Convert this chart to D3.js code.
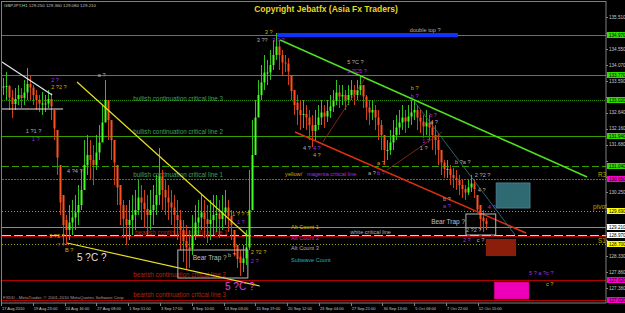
<!DOCTYPE html>
<meta charset="utf-8">
<script src="https://d3js.org/d3.v7.min.js"></script>
<style>
  body { margin: 0; background: #000; }
  svg { display: block; }
  text { font-family: "Liberation Sans", Arial, sans-serif; }
</style>
<div id="chart"></div>
<script>
// candle columns (6 hourly bars each): high / low prices
var colHigh = [133.68,133.86,133.47,133.32,133.38,133.47,133.38,133.62,133.98,133.77,133.47,133.32,133.17,133.26,133.17,133.32,
  133.23,132.72,132.12,131.07,130.17,129.57,129.87,130.02,130.17,130.47,130.92,131.82,131.97,131.82,131.67,131.97,
  132.27,132.87,133.62,133.02,132.42,131.82,131.07,130.47,130.02,129.87,130.02,130.17,130.32,130.62,130.47,130.32,
  130.17,130.32,130.47,130.77,131.58,130.92,130.62,130.47,130.32,130.17,130.02,129.72,129.42,129.27,129.12,129.57,
  129.87,130.02,130.17,130.02,129.87,130.02,130.17,130.17,130.02,130.17,130.32,130.02,129.72,129.12,128.67,128.52,
  128.67,129.12,130.92,132.42,133.02,133.62,134.07,134.37,134.22,134.52,134.82,135.03,134.82,134.52,134.37,134.28,
  133.77,133.32,133.17,133.02,133.02,132.87,132.72,132.57,132.72,132.87,133.02,132.87,133.02,133.17,133.32,133.62,
  133.47,133.47,133.32,133.47,133.62,133.47,133.62,133.77,133.47,133.17,133.02,133.02,132.87,132.72,132.42,131.97,
  131.82,132.12,132.42,132.57,132.72,132.87,132.72,132.87,133.02,133.02,132.87,132.72,132.57,132.72,132.57,132.42,
  132.27,131.97,131.52,131.22,131.22,131.07,130.98,130.92,130.77,130.62,130.47,130.62,130.77,130.62,130.17,129.87,
  129.72,129.48];
var colLow = [133.17,133.02,132.72,132.48,132.72,132.87,132.78,132.87,133.02,133.02,132.87,132.72,132.66,132.57,132.66,132.78,
  132.42,131.82,130.77,129.57,128.67,128.67,128.82,128.97,129.12,129.27,129.72,130.32,130.77,130.62,130.47,130.92,
  131.22,131.82,132.42,131.82,131.22,130.47,129.87,129.27,128.88,128.67,128.82,128.97,129.12,129.57,129.42,129.18,
  128.97,129.12,129.27,129.57,129.87,129.72,129.57,129.42,129.27,128.97,128.82,128.52,128.16,127.92,127.98,128.37,
  128.82,128.97,129.12,128.88,128.73,128.82,128.97,129.06,128.88,129.12,129.27,129.06,128.82,128.37,127.98,127.74,
  127.86,128.07,128.52,130.32,131.97,132.72,133.02,133.32,133.47,133.62,133.92,134.22,133.92,133.77,133.86,133.47,
  133.02,132.57,132.27,132.12,132.18,132.12,131.82,131.61,131.82,132.12,132.27,132.18,132.36,132.48,132.66,132.87,
  132.78,132.87,132.72,132.87,133.02,132.87,133.02,133.17,132.78,132.42,132.27,132.42,132.12,131.82,131.52,131.07,
  131.22,131.37,131.52,131.82,131.97,132.12,132.03,132.18,132.27,132.42,132.12,132.03,131.88,131.97,131.82,131.52,
  131.37,131.07,130.77,130.68,130.68,130.47,130.38,130.32,130.17,130.08,130.02,130.17,130.26,130.08,129.66,129.12,
  129.06,129.12];

// time axis (hourly bar index of each label)
var timeLabels = ["17 Aug 2010","19 Aug 23:00","24 Aug 16:00","27 Aug 08:00","1 Sep 01:00","3 Sep 17:00","8 Sep 10:00",
  "13 Sep 03:00","15 Sep 19:00","20 Sep 12:00","23 Sep 04:00","27 Sep 21:00","30 Sep 13:00","5 Oct 06:00","7 Oct 22:00","12 Oct 15:00"];
var timeBars = [0,64,128,192,256,320,384,448,512,576,640,704,768,832,896,960];

// price axis ticks
var priceTicks = [135.510,135.030,134.550,134.070,133.590,133.120,132.640,132.160,131.680,131.200,130.720,130.250,
  129.770,129.290,128.810,128.330,127.860,127.380];

// horizontal levels
var levelPrices = [134.97,133.77,133.02,131.94,131.04,130.65,129.69,129.21,128.94,128.97,128.70,127.62,127.02];

// trendlines: [bar1, price1, bar2, price2]
var whiteLines = [[2,134.16,103,133.17],[2,132.75,125,132.75]];
var yellowLines = [[153,133.56,497,128.94],[133,128.73,521,127.44]];
var greenLines = [[562,134.82,1180,130.71]];
var redLines = [[592,132.06,1057,129.03]];
var thinRedLines = [[648,131.76,733,133.68],[777,130.92,888,132.06]];
var tealLines = [[833,132.96,1035,128.97]];
var doubleTop = [[556,134.97,920,134.97]];

// zones: [bar1, price1, bar2, price2]
var blueZone = [[997,130.53,1065,129.78]];
var brownZone = [[976,128.85,1037,128.34]];
var magentaZone = [[993,127.56,1063,127.05]];
var trapBoxes = [[356,128.52,497,127.68],[936,129.60,996,128.97]];

// text objects: [text, bar, price]
var oliveText = [["2 ?2 ?",101,133.35],["3 ?",531,135.00],["4 ?",628,131.31],["a ?",757,131.07],["b ?",825,133.32],
  ["B ?",129,128.46],["1 ? ? ?",465,129.54],["2 ?2 ?",503,128.40],["c ?",1097,127.44],["Alt Count 1",584,129.15],
  ["yellow/",572,130.74],["3 ?3 ?",97,128.88]];
var purpleText = [["2 ?",101,133.56],["1 ?",62,131.79],["3 ? ?",546,134.76],["5 ?C5 ?",697,133.83],["4 ?",628,131.52],
  ["b ?",757,130.77],["magenta critical line",616,130.74],["b ?",825,133.08],["b ?",862,132.51],["1 ?",848,131.73],
  ["a ?",890,129.78],["4 ?",980,129.75],["1 ?",475,129.30],["2 ?",503,128.13],["? ?",113,128.61],["2 ?",930,128.76],
  ["5 ? a ?c ?",1063,127.77]];
var grayText = [["a ?",195,133.71],["1 ?1 ?",50,132.03],["4 ?4 ?",133,130.83],["3 ??",515,134.76],["5 ?C ?",697,134.10],
  ["4 ?",608,131.52],["a ?",739,130.77],["a ?",864,132.30],["1 ?",843,131.52],["b ?a ?",914,131.10],["2 ?2 ?",954,130.71],
  ["4 ?",960,130.26],["b ?",890,129.99],["2 ?2 ?",936,129.06],["c ?",958,128.76],["b ?",457,128.31],["Alt Count 3",584,128.52],
  ["white critical line",703,129.00],["double top ?",823,135.06]];
var trapText = [["Bear Trap ?",386,128.22],["Bear Trap ?",866,129.30]];
var magentaText = [["Alt Count 2",584,128.82]];
var cyanText = [["Subwave Count",584,128.16]];
var bullText = [["bullish continuation critical line 3",266,132.99],["bullish continuation critical line 2",266,132.00],
  ["bullish continuation critical line 1",266,130.71]];
var bearText = [["bearish continuation critical line 1",270,128.97],["bearish continuation critical line 2",266,127.71],
  ["bearish continuation critical line 3",266,127.11]];
var pivotText = [["R3",1202,130.71],["pivot",1192,129.75],["S1",1202,128.73]];
var bigText = [["5 ?C ?",153,128.19]];
var bigMagentaText = [["5 ?C ?",451,127.32]];

var W = 625, H = 313;
var svg = d3.select("#chart").append("svg").attr("width", W).attr("height", H);

var x = d3.scaleLinear().domain([0, 1216]).range([1, 605]);
var xCol = d3.scaleLinear().domain([0, colHigh.length - 1]).range([3, 486]);
var y = d3.scaleLinear().domain([127.38, 135.51]).range([288, 17]);

var plot = svg.append("g");

// levels
var levelStyle = [
  {c: "#33a000", d: null}, {c: "#33a000", d: null}, {c: "#2f8f00", d: "1,1"}, {c: "#33a000", d: null},
  {c: "#33a000", d: "7,3"}, {c: "#9a30d0", d: "2,1"}, {c: "#a0a000", d: "1,2"}, {c: "#8a8a8a", d: null},
  {c: "#b00000", d: null}, {c: "#d0d0d0", d: "9,3"}, {c: "#a0a000", d: "1,2"}, {c: "#b00000", d: null},
  {c: "#b00000", d: null}];
plot.selectAll("line.level").data(levelPrices).enter().append("line")
  .attr("x1", 2).attr("x2", 606)
  .attr("y1", function(d){ return Math.round(y(d)) + 0.5; })
  .attr("y2", function(d){ return Math.round(y(d)) + 0.5; })
  .attr("stroke", function(d, i){ return levelStyle[i].c; })
  .attr("stroke-dasharray", function(d, i){ return levelStyle[i].d; })
  .attr("stroke-width", 1);

// zones
function zones(data, fill, stroke, dash) {
  plot.selectAll(null).data(data).enter().append("rect")
    .attr("x", function(d){ return x(d[0]); })
    .attr("y", function(d){ return y(d[1]); })
    .attr("width", function(d){ return x(d[2]) - x(d[0]); })
    .attr("height", function(d){ return y(d[3]) - y(d[1]); })
    .attr("fill", fill).attr("stroke", stroke).attr("stroke-dasharray", dash);
}
zones(blueZone, "#2f6a72", "#4a7a90", null);
zones(brownZone, "#8a1e0a", "none", null);
zones(magentaZone, "#ee00bb", "#c00060", "1,1");

// text objects
function texts(data, color, size, weight) {
  plot.selectAll(null).data(data).enter().append("text")
    .attr("x", function(d){ return x(d[1]); })
    .attr("y", function(d){ return y(d[2]); })
    .attr("fill", color).attr("font-size", size).attr("font-weight", weight || "normal")
    .text(function(d){ return d[0]; });
}
texts(bullText, "#3aa060", 6.3);
texts(bearText, "#b82010", 6.3);

// candles
var candles = colHigh.map(function(h, i){
  var o = i > 0 ? (colHigh[i-1] + colLow[i-1]) / 2 : (h + colLow[i]) / 2;
  var c = (h + colLow[i]) / 2;
  return {i: i, h: h, l: colLow[i], o: o, c: c};
});
var cg = plot.append("g");
cg.selectAll("line").data(candles).enter().append("line")
  .attr("x1", function(d){ return xCol(d.i) + 0.5; })
  .attr("x2", function(d){ return xCol(d.i) + 0.5; })
  .attr("y1", function(d){ return y(d.h); })
  .attr("y2", function(d){ return y(d.l); })
  .attr("stroke", function(d){ return d.c >= d.o ? "#30c020" : "#d04018"; });
cg.selectAll("rect").data(candles).enter().append("rect")
  .attr("x", function(d){ return xCol(d.i) - 0.5; })
  .attr("width", 2)
  .attr("y", function(d){ return y(Math.min(d.h, Math.max(d.o, d.c))); })
  .attr("height", function(d){ return Math.max(1, Math.abs(y(d.o) - y(d.c))); })
  .attr("fill", function(d){ return d.c >= d.o ? "#44ff22" : "#ff5020"; });

// trendlines
function tls(data, color, width, dash) {
  plot.selectAll(null).data(data).enter().append("line")
    .attr("x1", function(d){ return x(d[0]); }).attr("y1", function(d){ return y(d[1]); })
    .attr("x2", function(d){ return x(d[2]); }).attr("y2", function(d){ return y(d[3]); })
    .attr("stroke", color).attr("stroke-width", width).attr("stroke-dasharray", dash);
}
tls(whiteLines, "#e8e8e8", 1.2);
tls(yellowLines, "#e8e020", 1.2);
tls(greenLines, "#50e020", 1.5);
tls(redLines, "#e03010", 1.5);
tls(thinRedLines, "#a03018", 0.8);
tls(tealLines, "#3a7a8a", 0.8);
tls(doubleTop, "#1030ff", 4);

zones(trapBoxes, "none", "#b8b8b8", null);

texts(oliveText, "#c8b400", 5.6);
texts(purpleText, "#a030e0", 5.6);
texts(grayText, "#b0b0b0", 5.6);
texts(magentaText, "#e020c0", 5.6);
texts(cyanText, "#20b0c0", 5.6);
texts(trapText, "#c0c0c0", 6.5);
texts(pivotText, "#b8a800", 6.5);
texts(bigText, "#e0e0e0", 10);
texts(bigMagentaText, "#e040e0", 10);

// frame
svg.append("rect").attr("x", 1.5).attr("y", 1.5).attr("width", 604.5).attr("height", 301.5)
  .attr("fill", "none").attr("stroke", "#808080");

// price axis: highlighted level labels cover the plain ticks
var labelColor = ["#33dd00","#33dd00","#33dd00","#33dd00","#33dd00","#ff00cc","#ffff00","#ffffff",null,"#ffffff","#ffff00","#ff00cc","#ff00cc"];
var labelled = levelPrices.filter(function(d, i){ return labelColor[i]; });
var shownTicks = priceTicks.filter(function(t){
  return labelled.every(function(l){ return Math.abs(y(t) - y(l)) > 6; });
});
var pa = svg.append("g");
pa.selectAll("line").data(priceTicks).enter().append("line")
  .attr("x1", 606).attr("x2", 608)
  .attr("y1", function(d){ return Math.round(y(d)) + 0.5; }).attr("y2", function(d){ return Math.round(y(d)) + 0.5; })
  .attr("stroke", "#808080");
pa.selectAll("text").data(shownTicks).enter().append("text")
  .attr("x", 609).attr("y", function(d){ return y(d) + 1.6; })
  .attr("fill", "#c8c8c8").attr("font-size", 4.6)
  .text(function(d){ return d.toFixed(3); });

var lab = svg.append("g").selectAll("g").data(labelled).enter().append("g");
lab.append("rect").attr("x", 607).attr("width", 18).attr("height", 6)
  .attr("y", function(d){ return y(d) - 3; })
  .attr("fill", function(d){ return labelColor[levelPrices.indexOf(d)]; });
lab.append("text").attr("x", 609).attr("y", function(d){ return y(d) + 1.6; })
  .attr("font-size", 4.6).attr("fill", "#000")
  .text(function(d){ return d.toFixed(3); });

// time axis
var ta = svg.append("g");
ta.selectAll("line").data(timeBars).enter().append("line")
  .attr("x1", function(d){ return Math.round(x(d)) + 0.5; }).attr("x2", function(d){ return Math.round(x(d)) + 0.5; })
  .attr("y1", 303).attr("y2", 306).attr("stroke", "#808080");
ta.selectAll("text").data(timeBars).enter().append("text")
  .attr("x", function(d){ return x(d) + 1; }).attr("y", 310)
  .attr("fill", "#c8c8c8").attr("font-size", 4)
  .text(function(d, i){ return timeLabels[i]; });

// titles
svg.append("text").attr("x", 4).attr("y", 7).attr("fill", "#c0c0c0").attr("font-size", 4.4)
  .text("GBPJPY,H1  129.250 129.360 129.080 129.210");
svg.append("text").attr("x", 326).attr("y", 12).attr("text-anchor", "middle").attr("fill", "#e8d820")
  .attr("font-size", 8.5).attr("font-weight", "bold").text("Copyright Jebatfx (Asia Fx Traders)");
svg.append("text").attr("x", 3).attr("y", 299).attr("fill", "#b09898").attr("font-size", 4.4)
  .text("FXDD - MetaTrader, \u00a9 2001-2010 MetaQuotes Software Corp.");
</script>
